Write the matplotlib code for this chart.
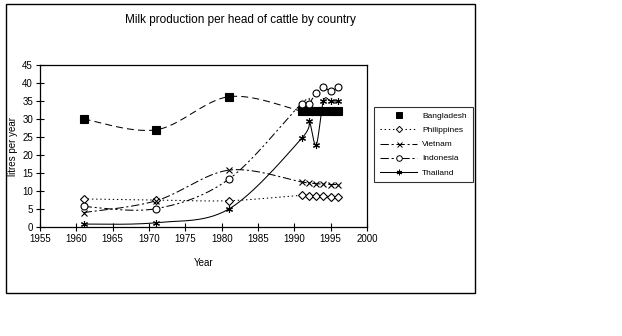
import numpy as np
import matplotlib
matplotlib.use("Agg")
import matplotlib.pyplot as plt
from matplotlib.lines import Line2D
from matplotlib.patches import Rectangle

plt.rcParams['font.family'] = ['Liberation Sans', 'DejaVu Sans']
plt.rcParams['lines.scale_dashes'] = False

years = [1961, 1971, 1981, 1991, 1992, 1993, 1994, 1995, 1996]
bangladesh = [30.0, 27.0, 36.2, 32.2, 32.2, 32.2, 32.2, 32.2, 32.2]
philippines = [7.8, 7.5, 7.3, 8.8, 8.6, 8.5, 8.5, 8.4, 8.3]
vietnam = [4.0, 7.3, 15.8, 12.5, 12.3, 12.0, 12.0, 11.8, 11.8]
indonesia = [5.7, 5.1, 13.3, 34.3, 34.3, 37.3, 38.8, 37.7, 38.8]
thailand = [0.8, 1.2, 5.0, 24.6, 29.5, 22.8, 35.0, 35.0, 35.0]

series_names = ["Bangladesh", "Philippines", "Vietnam", "Indonesia", "Thailand"]
x_ticks = [1955, 1960, 1965, 1970, 1975, 1980, 1985, 1990, 1995, 2000]
y_ticks = [0, 5, 10, 15, 20, 25, 30, 35, 40, 45]


def smooth(xs, ys, n=30):
    """Excel-like smoothed line: cubic Bezier with Catmull-Rom tangents."""
    P = np.column_stack([xs, ys]).astype(float)
    out = [P[0]]
    m = len(P)
    for i in range(m - 1):
        p0 = P[i - 1] if i > 0 else P[i]
        p1 = P[i]
        p2 = P[i + 1]
        p3 = P[i + 2] if i + 2 < m else P[i + 1]
        c1 = p1 + (p2 - p0) / 6.0
        c2 = p2 - (p3 - p1) / 6.0
        t = np.linspace(0, 1, n)[1:, None]
        seg = ((1 - t) ** 3) * p1 + 3 * ((1 - t) ** 2) * t * c1 + 3 * (1 - t) * t ** 2 * c2 + t ** 3 * p2
        out.extend(seg)
    out = np.array(out)
    return out[:, 0], out[:, 1]


W, H = 622, 336
fig = plt.figure(figsize=(W / 100, H / 100), dpi=100)
fig.patch.set_facecolor('white')

# outer frame
fig.add_artist(Rectangle((6 / W, 1 - 293 / H), (475 - 6) / W, (293 - 4) / H,
                         transform=fig.transFigure, fill=False, edgecolor='black', lw=1.0))

ax = fig.add_axes([40 / W, 1 - 227 / H, (367 - 40) / W, (227 - 65) / H])

lw = 0.75
styles = [
    dict(ls=(0, (5, 3)), marker='s', ms=5.5, mfc='black', mec='black'),
    dict(ls=(0, (1, 2)), marker='D', ms=4, mfc='white', mec='black'),
    dict(ls=(0, (6, 2, 1.5, 2)), marker='x', ms=4.5, mfc='black', mec='black'),
    dict(ls=(0, (6, 2, 1.5, 2, 1.5, 2)), marker='o', ms=5, mfc='white', mec='black'),
    dict(ls='-', marker=(6, 2, 0), ms=5, mfc='black', mec='black'),
]
data = [bangladesh, philippines, vietnam, indonesia, thailand]

for name, ys, st in zip(series_names, data, styles):
    sx, sy = smooth(years, ys)
    ax.plot(sx, sy, color='black', lw=lw, linestyle=st['ls'], zorder=2)
    ax.plot(years, ys, linestyle='none', marker=st['marker'], ms=st['ms'],
            mfc=st['mfc'], mec=st['mec'], mew=0.8, zorder=3)

ax.set_xlim(1955, 2000)
ax.set_ylim(0, 45)
ax.set_xticks(x_ticks)
ax.set_yticks(y_ticks)
ax.tick_params(direction='inout', length=6, width=0.8, labelsize=7, pad=2)
for s in ax.spines.values():
    s.set_linewidth(0.9)

ax.set_xlabel("Year", fontsize=7, labelpad=10)
ax.set_ylabel("litres per year", fontsize=7, labelpad=3)
fig.text(240 / W, 1 - 20 / H, "Milk production per head of cattle by country",
         ha='center', va='center', fontsize=8.5)

handles = []
for name, st in zip(series_names, styles):
    ls = 'none' if name == "Bangladesh" else st['ls']
    handles.append(Line2D([], [], color='black', lw=lw, linestyle=ls, marker=st['marker'],
                          ms=st['ms'] * 0.8, mfc=st['mfc'], mec=st['mec'], mew=0.7))
leg = fig.legend(handles, series_names, loc='center left',
                 bbox_to_anchor=(374 / W, 1 - 144.5 / H), bbox_transform=fig.transFigure,
                 fontsize=6, frameon=True, fancybox=False, edgecolor='black',
                 handlelength=4.5, handletextpad=0.6, labelspacing=0.75,
                 borderpad=0.7, borderaxespad=0, markerscale=1)
leg.get_frame().set_linewidth(0.8)

fig.savefig("out.png", dpi=100, facecolor='white')
